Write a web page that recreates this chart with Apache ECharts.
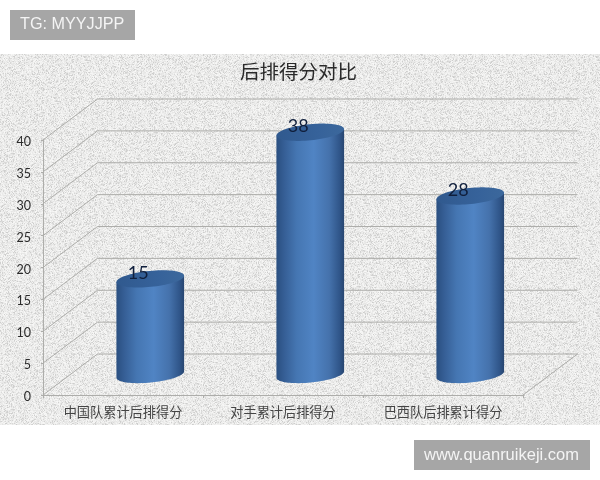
<!DOCTYPE html>
<html>
<head>
<meta charset="utf-8">
<style>html,body{margin:0;padding:0;background:#fff}#c{width:600px;height:480px}</style>
<script src="https://cdn.jsdelivr.net/npm/echarts@6/dist/echarts.min.js"></script>
</head>
<body>
<div id="c"></div>
<script>
const titleText = '后排得分对比';
const categories = ['中国队累计后排得分', '对手累计后排得分', '巴西队后排累计得分'];
const values = [15, 38, 28];
const yTicks = [0, 5, 10, 15, 20, 25, 30, 35, 40];
const badgeTop = 'TG: MYYJJPP';
const badgeBottom = 'www.quanruikeji.com';

const DX = 54.5, DY = -41;          // depth of the 3D box, in pixels
const A = 34, B = 8, TILT = -5.7 * Math.PI / 180;

// paper-like speckle for the panel (decoration only, fixed seed)
function makeTexture() {
  const s = 256, a = document.createElement('canvas'), b = document.createElement('canvas');
  a.width = a.height = b.width = b.height = s;
  const ctx = a.getContext('2d'), img = ctx.createImageData(s, s);
  let seed = 12345;
  const rnd = () => (seed = (seed * 1103515245 + 12345) & 0x7fffffff) / 0x7fffffff;
  for (let i = 0; i < s * s; i++) {
    const n = rnd();
    const v = n < 0.2 ? 204 + rnd() * 16 : n > 0.6 ? 238 + rnd() * 10 : 228 + rnd() * 8;
    img.data[i * 4] = v; img.data[i * 4 + 1] = v; img.data[i * 4 + 2] = v - 1; img.data[i * 4 + 3] = 255;
  }
  ctx.putImageData(img, 0, 0);
  const c2 = b.getContext('2d');
  c2.filter = 'blur(0.72px)';
  for (let ox = -s; ox <= s; ox += s) for (let oy = -s; oy <= s; oy += s) c2.drawImage(a, ox, oy);
  return b;
}

function ellipsePoint(cx, cy, t) {
  const x = A * Math.cos(t), y = B * Math.sin(t);
  return [cx + x * Math.cos(TILT) - y * Math.sin(TILT), cy + x * Math.sin(TILT) + y * Math.cos(TILT)];
}
function extremeT() { return Math.atan2(-B * Math.sin(TILT), A * Math.cos(TILT)); }

function renderWalls(params, api) {
  const v = api.value(0), r = params.coordSys;
  const y = api.coord([0, v])[1], l = r.x, rx = r.x + r.width;
  const line = { stroke: '#adadaa', lineWidth: 1, fill: null };
  const pts = [[l, y], [l + DX, y + DY], [rx + DX, y + DY]];
  if (v === 0) pts.push([rx, y]);
  return { type: 'polyline', shape: { points: pts }, style: line, silent: true };
}

function renderCylinder(params, api) {
  const i = api.value(0), v = api.value(1);
  const base = api.coord([i, 0]), top = api.coord([i, v]);
  const cx = base[0] + DX / 2, by = base[1] + DY / 2, ty = top[1] + DY / 2;
  const t0 = extremeT();
  const side = [];
  const n = 48;
  for (let k = 0; k <= n; k++) side.push(ellipsePoint(cx, by, t0 + Math.PI * k / n));
  const pR = ellipsePoint(cx, ty, t0), pL = ellipsePoint(cx, ty, t0 + Math.PI);
  side.push(pL, pR);
  const lid = [];
  for (let k = 0; k < 72; k++) lid.push(ellipsePoint(cx, ty, 2 * Math.PI * k / 72));
  return {
    type: 'group',
    children: [
      { type: 'polygon', shape: { points: side }, style: {
        fill: new echarts.graphic.LinearGradient(0, 0, 1, 0, [
          { offset: 0, color: '#2a4f80' }, { offset: 0.12, color: '#365f96' },
          { offset: 0.3, color: '#4576b2' }, { offset: 0.55, color: '#5084c4' },
          { offset: 0.78, color: '#4572ac' }, { offset: 0.93, color: '#30568a' },
          { offset: 1, color: '#284670' }
        ]) } },
      { type: 'polygon', shape: { points: lid }, style: {
        fill: new echarts.graphic.LinearGradient(0, 0, 1, 0, [
          { offset: 0, color: '#30598e' }, { offset: 0.6, color: '#36629a' }, { offset: 1, color: '#3c689c' }
        ]) } },
      { type: 'text', x: cx - 12, y: ty - 5.6, style: {
        text: String(v), fill: '#101f3c', font: '18px Lato', align: 'center', verticalAlign: 'middle' } }
    ]
  };
}

const chart = echarts.init(document.getElementById('c'), null, { renderer: 'canvas' });
const labelFont = '"Noto Sans CJK SC"';
chart.setOption({
  animation: false,
  backgroundColor: '#fff',
  title: {
    text: titleText, left: 240, top: 57, padding: 0,
    textStyle: { fontFamily: labelFont, fontSize: 19.5, fontWeight: 'normal', color: '#2a2a2a', lineHeight: 29 }
  },
  grid: { left: 43, right: 77, top: 140, bottom: 85 },
  xAxis: {
    type: 'category', data: categories, boundaryGap: true,
    axisLine: { lineStyle: { color: '#adadaa' } },
    axisTick: { show: true, length: 3, alignWithLabel: false, lineStyle: { color: '#adadaa' } },
    axisLabel: { fontFamily: labelFont, fontSize: 13.2, color: '#444', margin: 10, interval: 0 }
  },
  yAxis: {
    type: 'value', min: 0, max: 40, interval: 5,
    axisLine: { show: true, lineStyle: { color: '#adadaa' } },
    axisTick: { show: true, length: 2, lineStyle: { color: '#adadaa' } },
    splitLine: { show: false },
    axisLabel: { fontFamily: 'Lato', fontSize: 12.5, color: '#2b2b2b', margin: 12, verticalAlign: 'top', lineHeight: 4 }
  },
  graphic: [
    { type: 'rect', z: -10, silent: true, shape: { x: 0, y: 54, width: 600, height: 371 },
      style: { fill: { image: makeTexture(), repeat: 'repeat' } } },
    { type: 'rect', z: 5, shape: { x: 10, y: 10, width: 125, height: 30 }, style: { fill: '#a6a6a6' } },
    { type: 'text', z: 6, x: 20, y: 25, style: { text: badgeTop, fill: '#f4f4f4', font: '16.2px "Liberation Sans"', verticalAlign: 'middle' } },
    { type: 'rect', z: 5, shape: { x: 414, y: 440, width: 176, height: 30 }, style: { fill: '#a6a6a6' } },
    { type: 'text', z: 6, x: 424, y: 455, style: { text: badgeBottom, fill: '#f4f4f4', font: '16.5px "Liberation Sans"', verticalAlign: 'middle' } }
  ],
  series: [
    { type: 'custom', z: 1, silent: true, renderItem: renderWalls, encode: { y: 0 },
      data: yTicks.map(t => [t]), coordinateSystem: 'cartesian2d', dimensions: ['v'], clip: false },
    { type: 'custom', z: 3, silent: true, renderItem: renderCylinder, encode: { x: 0, y: 1 },
      data: values.map((v, i) => [i, v]), coordinateSystem: 'cartesian2d', clip: false }
  ]
});
</script>
</body>
</html>
